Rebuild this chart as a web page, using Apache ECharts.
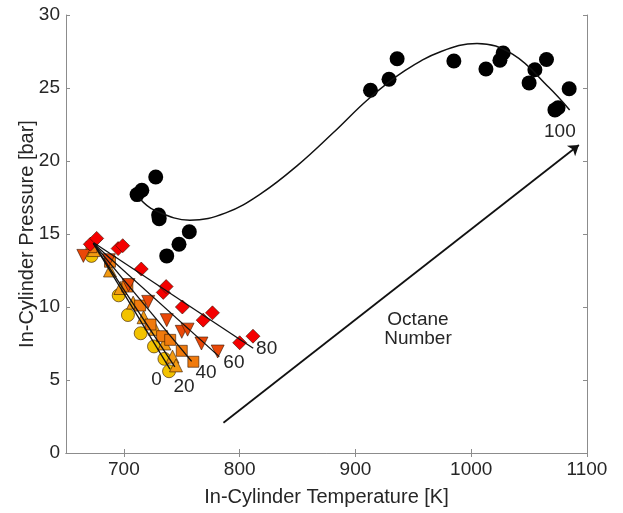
<!DOCTYPE html>
<html>
<head>
<meta charset="utf-8">
<title>In-Cylinder Pressure vs Temperature</title>
<script src="https://cdn.jsdelivr.net/npm/echarts@6/dist/echarts.min.js"></script>
<style>
    html, body { margin: 0; padding: 0; background: #fff; }
    #chart { width: 623px; height: 513px; }
</style>
</head>
<body>
<div id="chart"></div>
<script>
// octane number groups ([temperature K, pressure bar])
var octane0 = [[672, 13.5], [695.5, 10.8], [703.5, 9.45], [714.5, 8.2], [726, 7.3], [735, 6.45], [739, 5.6]];
var octane20 = [[674, 13.9], [688, 12.5], [697, 11.3], [708, 10.3], [717, 9.3], [727, 8.5], [735, 7.5], [742, 6.6], [745, 6.0]];
var octane40 = [[672, 14.1], [688, 13.1], [703, 11.4], [714, 10.1], [723, 8.8], [733, 8.0], [740, 7.75], [750, 7.0], [760, 6.25]];
var octane60 = [[665, 13.5], [687, 13.2], [704, 11.5], [721, 10.35], [737, 9.1], [750, 8.3], [755, 8.45], [767, 7.5], [781, 6.95]];
var octane80 = [[671, 14.3], [676.5, 14.7], [695, 14.0], [699, 14.2], [715, 12.6], [734, 11.0], [736.5, 11.4],
    [750.5, 10.0], [768.5, 9.1], [776.5, 9.6], [800, 7.55], [811.5, 8.0]];
var octane100 = [[711.4, 17.7], [715.5, 18.0], [727.5, 18.9], [730, 16.3], [730.5, 16.05], [737, 13.5], [747.6, 14.3],
    [756.5, 15.15], [913, 24.85], [929, 25.6], [936, 27.0], [985, 26.85], [1012.7, 26.3], [1024.8, 26.9],
    [1027.6, 27.4], [1050, 25.35], [1055, 26.25], [1065, 26.95], [1072.3, 23.5], [1075, 23.65], [1084.6, 24.95]];

// fitted lines, start and end points
var fit0 = [[673.6, 14.36], [739.8, 5.74]];
var fit20 = [[673.6, 14.36], [744, 5.9]];
var fit40 = [[673.6, 14.36], [758.5, 6.27]];
var fit60 = [[673.6, 14.36], [782.4, 6.6]];
var fit80 = [[674, 14.4], [811.7, 7.18]];

// fitted curve for octane 100 (incl. its low and high turning points)
var curveT = [714, 726, 757, 788, 819, 850, 881, 912, 943, 974, 1005, 1036, 1067, 1085];
var curveP = [17.4, 16.65, 15.95, 16.45, 17.8, 19.7, 21.95, 24.3, 26.2, 27.5, 28.05, 27.3, 25.05, 23.5];

// arrow from low to high octane
var arrowFrom = [786, 2.07];
var arrowTo = [1093, 21.1];

// text labels in data coordinates
var labelText = ['0', '20', '40', '60', '80', '100', 'Octane', 'Number'];
var labelT = [728.3, 751.9, 770.9, 795, 823.3, 1076.6, 954, 954];
var labelP = [5.0, 4.55, 5.5, 6.15, 7.15, 22.0, 9.1, 7.85];

var xTicks = [700, 800, 900, 1000, 1100];

var FONT = '"Liberation Sans", Helvetica, Arial, sans-serif';
var TEXT = '#262626';
var AXIS = '#8c8c8c';

function scatter(name, data, symbol, color, size, rotate) {
    return {
        name: name,
        type: 'scatter',
        data: data,
        symbol: symbol,
        symbolSize: size,
        symbolRotate: rotate || 0,
        itemStyle: {
            color: color,
            opacity: 1,
            borderColor: 'rgba(50,20,0,0.75)',
            borderWidth: 0.8
        },
        z: 3
    };
}

function fitLine(data) {
    return {
        type: 'line',
        data: data,
        showSymbol: false,
        lineStyle: { color: '#111', width: 1.3 },
        silent: true,
        z: 4
    };
}

var curveData = curveT.map(function (t, i) {
    return [t, curveP[i]];
});

var labelData = labelText.map(function (s, i) {
    return { name: s, value: [labelT[i], labelP[i]] };
});

var chart = echarts.init(document.getElementById('chart'));
chart.setOption({
    animation: false,
    backgroundColor: '#fff',
    textStyle: { fontFamily: FONT },
    grid: { left: 66, right: 36, top: 15, bottom: 60 },
    xAxis: [{
        type: 'value',
        min: 650,
        max: 1100,
        interval: 50,
        name: 'In-Cylinder Temperature [K]',
        nameLocation: 'middle',
        nameGap: 34,
        nameMoveOverlap: false,
        nameTextStyle: { fontSize: 20, color: TEXT, fontFamily: FONT },
        axisLine: { show: true, lineStyle: { color: AXIS } },
        axisTick: { show: true, inside: true, length: 4, customValues: xTicks, lineStyle: { color: AXIS } },
        axisLabel: {
            customValues: xTicks,
            fontSize: 19,
            color: TEXT,
            margin: 7,
            fontFamily: FONT,
            formatter: function (v) { return String(v); }
        },
        splitLine: { show: false }
    }, {
        type: 'value',
        position: 'top',
        min: 650,
        max: 1100,
        interval: 50,
        axisLine: { show: true, lineStyle: { color: AXIS } },
        axisTick: { show: true, inside: true, length: 4, customValues: xTicks, lineStyle: { color: AXIS } },
        axisLabel: { show: false },
        splitLine: { show: false }
    }],
    yAxis: [{
        type: 'value',
        min: 0,
        max: 30,
        interval: 5,
        name: 'In-Cylinder Pressure [bar]',
        nameLocation: 'middle',
        nameGap: 29,
        nameMoveOverlap: false,
        nameTextStyle: { fontSize: 20, color: TEXT, fontFamily: FONT },
        axisLine: { show: true, lineStyle: { color: AXIS } },
        axisTick: { show: true, inside: true, length: 4, lineStyle: { color: AXIS } },
        axisLabel: { fontSize: 19, color: TEXT, margin: 6, fontFamily: FONT },
        splitLine: { show: false }
    }, {
        type: 'value',
        position: 'right',
        min: 0,
        max: 30,
        interval: 5,
        axisLine: { show: true, lineStyle: { color: AXIS } },
        axisTick: { show: true, inside: true, length: 4, lineStyle: { color: AXIS } },
        axisLabel: { show: false },
        splitLine: { show: false }
    }],
    series: [
        scatter('0', octane0, 'circle', '#f2c200', 13),
        scatter('20', octane20, 'triangle', '#f29a12', 13),
        scatter('40', octane40, 'rect', '#f07a0c', 11),
        scatter('60', octane60, 'triangle', '#ea4808', 13, 180),
        scatter('80', octane80, 'diamond', '#f50000', 14),
        {
            name: '100',
            type: 'scatter',
            data: octane100,
            symbol: 'circle',
            symbolSize: 15,
            itemStyle: { color: '#000', opacity: 1 },
            z: 3
        },
        fitLine(fit0),
        fitLine(fit20),
        fitLine(fit40),
        fitLine(fit60),
        fitLine(fit80),
        {
            type: 'line',
            data: curveData,
            smooth: 0.4,
            showSymbol: false,
            lineStyle: { color: '#111', width: 1.5 },
            silent: true,
            z: 4
        },
        {
            type: 'lines',
            coordinateSystem: 'cartesian2d',
            data: [{ coords: [arrowFrom, arrowTo] }],
            symbol: ['none', 'arrow'],
            symbolSize: [0, 10],
            lineStyle: { color: '#111', width: 1.8, opacity: 1 },
            silent: true,
            z: 4
        },
        {
            type: 'scatter',
            data: labelData,
            symbolSize: 0,
            silent: true,
            itemStyle: { opacity: 1 },
            label: {
                show: true,
                position: 'inside',
                formatter: '{b}',
                fontSize: 19,
                color: TEXT,
                fontFamily: FONT
            },
            z: 6
        }
    ]
});
</script>
</body>
</html>
